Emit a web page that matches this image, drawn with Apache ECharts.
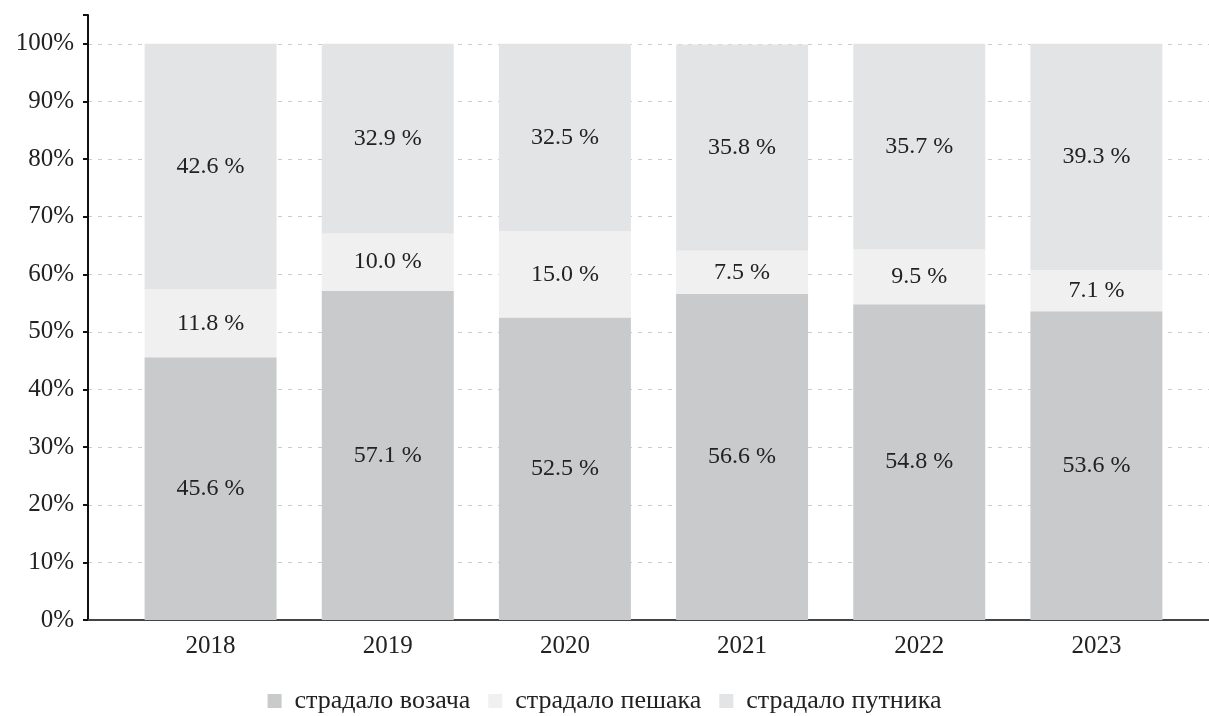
<!DOCTYPE html>
<html>
<head>
<meta charset="utf-8">
<script src="https://cdn.jsdelivr.net/npm/echarts@6/dist/echarts.min.js"></script>
<style>html,body{margin:0;padding:0;background:#fff}#c{width:1209px;height:716px}</style>
</head>
<body>
<div id="c"></div>
<script>
var years = ['2018', '2019', '2020', '2021', '2022', '2023'];
var seriesNames = ['страдало возача', 'страдало пешака', 'страдало путника'];
var drivers = [45.6, 57.1, 52.5, 56.6, 54.8, 53.6];
var pedestrians = [11.8, 10.0, 15.0, 7.5, 9.5, 7.1];
var passengers = [42.6, 32.9, 32.5, 35.8, 35.7, 39.3];
var yTicks = [0, 10, 20, 30, 40, 50, 60, 70, 80, 90, 100];

var FONT = '"Liberation Serif", "DejaVu Serif", serif';
var colors = ['#c9cacb', '#f0f0f0', '#e3e4e6'];
var gridColors = yTicks.map(function () { return '#cccccc'; }).concat(['rgba(0,0,0,0)']);

var chart = echarts.init(document.getElementById('c'));
function barSeries(i, data) {
  return {
    name: seriesNames[i], type: 'bar', stack: 'total',
    xAxisIndex: 1, yAxisIndex: 1,
    barWidth: 132, data: data,
    itemStyle: { color: colors[i] },
    label: {
      show: true, position: 'inside',
      formatter: function (p) { return p.value.toFixed(1) + ' %'; },
      fontFamily: FONT, fontSize: 24, color: '#222'
    }
  };
}
chart.setOption({
  animation: false,
  backgroundColor: '#fff',
  color: colors,
  grid: [
    { left: 88, right: 0, top: 15, bottom: 96 },
    { left: 122, right: 24, top: 15, bottom: 96 }
  ],
  legend: {
    data: seriesNames, top: 683, left: 'center',
    icon: 'rect', itemWidth: 14, itemHeight: 14, itemGap: 18,
    textStyle: { fontFamily: FONT, fontSize: 26, color: '#222', padding: [0, 0, 0, 8] }
  },
  xAxis: [
    { gridIndex: 0, type: 'category', data: [''],
      axisLine: { show: true, lineStyle: { color: '#444', width: 2 } },
      axisTick: { show: false }, axisLabel: { show: false }, splitLine: { show: false } },
    { gridIndex: 1, type: 'category', data: years,
      axisLine: { show: false }, axisTick: { show: false },
      axisLabel: { fontFamily: FONT, fontSize: 25, color: '#222', margin: 14 } }
  ],
  yAxis: [
    { gridIndex: 0, type: 'value', min: 0, max: 105, interval: 10,
      axisLine: { show: true, lineStyle: { color: '#111', width: 2 } },
      axisTick: { show: true, length: 5, lineStyle: { color: '#111', width: 2 } },
      axisLabel: { fontFamily: FONT, fontSize: 25, color: '#222', margin: 14,
        formatter: function (v) { return v > 100 ? '' : v + '%'; } },
      splitLine: { show: true, showMaxLine: false,
        lineStyle: { type: [4, 6], color: gridColors, width: 1 } } },
    { gridIndex: 1, type: 'value', min: 0, max: 105, interval: 10, show: false,
      splitLine: { show: false } }
  ],
  series: [barSeries(0, drivers), barSeries(1, pedestrians), barSeries(2, passengers)]
});
</script>
</body>
</html>
